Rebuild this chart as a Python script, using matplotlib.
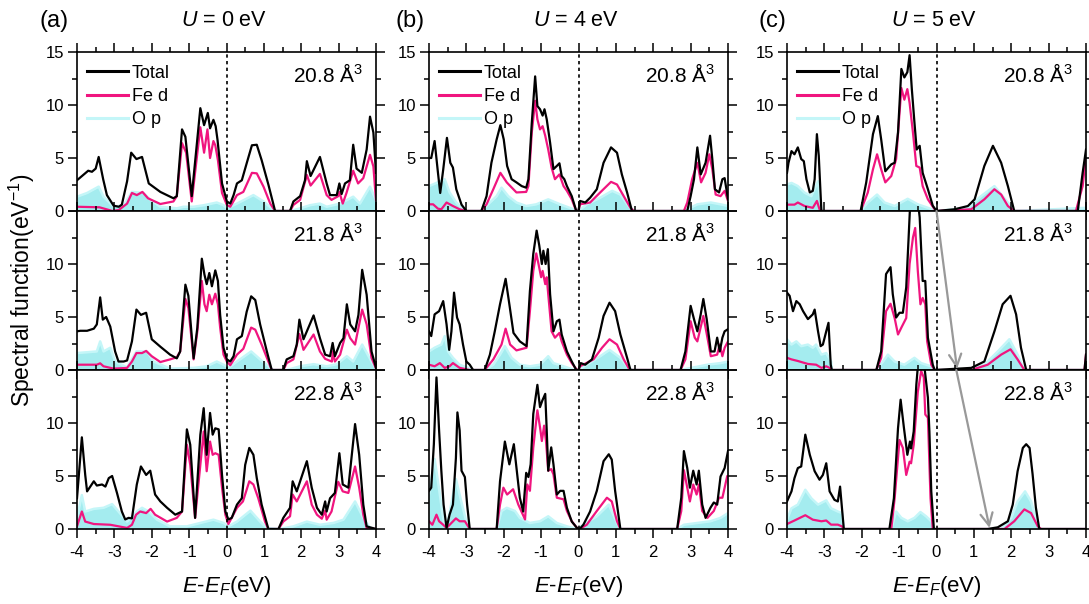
import matplotlib
matplotlib.use("Agg")
import matplotlib.pyplot as plt
from matplotlib.ticker import MultipleLocator

plt.rcParams['font.family'] = ['Liberation Sans', 'DejaVu Sans']
plt.rcParams['mathtext.fontset'] = 'custom'
plt.rcParams['mathtext.rm'] = 'Liberation Sans'
plt.rcParams['mathtext.it'] = 'Liberation Sans:italic'

## Data: (E - E_F [eV], spectral function [1/eV]) ##
volumes = ["20.8", "21.8", "22.8"]
u_values = ["0", "4", "5"]
panel_tags = ["(a)", "(b)", "(c)"]
energy_ticks = [-4, -3, -2, -1, 0, 1, 2, 3, 4]

# U = 0 eV
a1_total = [(-4.0, 2.9), (-3.8, 3.5), (-3.7, 3.8), (-3.6, 3.7), (-3.5, 4.0), (-3.42, 5.1), (-3.3, 3.0), (-3.2, 1.5),
            (-3.02, 0.5), (-2.88, 0.4), (-2.8, 0.6), (-2.66, 2.8), (-2.55, 5.5), (-2.41, 4.9), (-2.26, 5.1), (-2.08, 2.6),
            (-1.77, 1.8), (-1.42, 1.2), (-1.33, 1.4), (-1.19, 7.7), (-1.10, 7.0), (-0.93, 1.4), (-0.70, 9.7), (-0.60, 8.1),
            (-0.50, 9.25), (-0.44, 7.8), (-0.35, 8.6), (-0.29, 8.0), (-0.24, 6.7), (-0.12, 2.6), (0.01, 0.9), (0.10, 0.7),
            (0.19, 1.5), (0.28, 2.6), (0.41, 2.9), (0.54, 4.5), (0.68, 6.2), (0.81, 6.25), (0.94, 4.8), (1.12, 2.5),
            (1.30, 0.0), (1.70, 0.0), (1.79, 0.9), (1.97, 1.4), (2.10, 2.9), (2.15, 4.7), (2.25, 3.3), (2.50, 5.1),
            (2.68, 2.6), (2.77, 1.5), (2.95, 1.5), (3.02, 2.6), (3.08, 1.6), (3.17, 2.6), (3.30, 2.9), (3.39, 6.25),
            (3.48, 4.0), (3.62, 3.6), (3.75, 5.8), (3.84, 8.9), (3.93, 7.4), (4.0, 3.6)]
a1_fed = [(-4.0, 0.4), (-3.4, 0.35), (-3.05, 0.0), (-2.88, 0.1), (-2.66, 0.7), (-2.53, 1.7), (-2.4, 1.5), (-2.25, 1.8),
          (-2.1, 1.2), (-1.77, 0.66), (-1.42, 0.9), (-1.33, 1.4), (-1.19, 6.4), (-1.08, 5.5), (-0.93, 0.9), (-0.70, 7.9),
          (-0.6, 5.5), (-0.51, 7.7), (-0.44, 5.0), (-0.35, 6.6), (-0.30, 6.2), (-0.23, 4.8), (-0.12, 1.7), (0.01, 0.57),
          (0.10, 0.4), (0.28, 1.5), (0.45, 1.8), (0.68, 3.6), (0.81, 3.55), (0.99, 2.3), (1.17, 0.7), (1.30, 0.0),
          (1.70, 0.0), (1.79, 0.57), (1.97, 1.05), (2.15, 3.4), (2.25, 2.4), (2.50, 3.5), (2.68, 1.5), (2.81, 1.05),
          (2.99, 1.4), (3.02, 1.8), (3.11, 0.7), (3.21, 1.7), (3.39, 3.8), (3.52, 2.6), (3.66, 3.1), (3.84, 5.3),
          (3.93, 4.2), (4.0, 1.0)]
a1_op = [(-4.0, 1.35), (-3.73, 1.7), (-3.42, 2.3), (-3.29, 1.35), (-3.02, 0.4), (-2.75, 0.55), (-2.53, 1.8), (-2.22, 1.7),
         (-2.04, 1.05), (-1.77, 0.4), (-1.33, 0.25), (-1.15, 0.4), (-0.88, 0.4), (-0.6, 0.55), (-0.26, 0.8), (-0.08, 0.55),
         (0.01, 0.25), (0.28, 0.7), (0.72, 1.5), (0.99, 0.9), (1.26, 0.1), (1.35, 0.0), (1.70, 0.0), (1.97, 0.25),
         (2.24, 0.55), (2.5, 0.7), (2.68, 0.4), (3.04, 0.7), (3.39, 1.35), (3.57, 0.7), (3.84, 2.3), (4.0, 1.0)]

a2_total = [(-4.0, 3.65), (-3.91, 3.7), (-3.73, 3.7), (-3.55, 3.9), (-3.47, 4.3), (-3.38, 6.85), (-3.31, 4.75), (-3.22, 5.0),
            (-3.11, 4.1), (-2.98, 1.75), (-2.89, 0.8), (-2.75, 0.8), (-2.66, 0.9), (-2.53, 2.7), (-2.41, 5.7), (-2.29, 5.2),
            (-2.15, 5.4), (-2.0, 2.9), (-1.77, 2.2), (-1.51, 1.45), (-1.33, 1.1), (-1.24, 1.75), (-1.10, 8.05), (-1.02, 7.0),
            (-0.88, 1.1), (-0.78, 4.0), (-0.66, 10.5), (-0.59, 9.0), (-0.53, 8.1), (-0.46, 9.15), (-0.39, 7.9), (-0.30, 9.4),
            (-0.23, 8.4), (-0.17, 5.2), (-0.08, 2.1), (0.01, 1.0), (0.10, 0.8), (0.19, 1.3), (0.28, 2.9), (0.41, 3.2),
            (0.54, 5.5), (0.66, 6.95), (0.77, 6.6), (0.90, 4.3), (1.08, 1.75), (1.21, 0.0), (1.52, 0.0), (1.61, 1.0),
            (1.79, 1.3), (1.88, 2.4), (1.95, 4.75), (2.06, 2.9), (2.33, 5.15), (2.50, 3.0), (2.64, 1.45), (2.77, 1.3),
            (2.84, 2.55), (2.90, 1.3), (3.04, 2.55), (3.13, 3.0), (3.22, 6.2), (3.31, 4.3), (3.44, 3.65), (3.53, 5.2),
            (3.63, 9.45), (3.75, 7.1), (3.88, 1.75), (4.0, 0.2)]
a2_fed = [(-4.0, 0.5), (-3.47, 0.5), (-3.38, 0.63), (-3.29, 0.35), (-3.02, 0.13), (-2.66, 0.2), (-2.53, 0.8), (-2.41, 1.6),
          (-2.26, 1.6), (-2.15, 1.8), (-2.0, 1.3), (-1.77, 0.75), (-1.51, 1.0), (-1.33, 1.2), (-1.24, 1.75), (-1.10, 6.7),
          (-1.02, 5.85), (-0.88, 1.0), (-0.78, 3.65), (-0.66, 8.4), (-0.59, 6.2), (-0.53, 5.55), (-0.46, 7.1), (-0.39, 6.2),
          (-0.30, 7.2), (-0.23, 6.2), (-0.17, 4.0), (-0.08, 1.45), (0.01, 0.8), (0.10, 0.45), (0.28, 1.45), (0.45, 2.0),
          (0.66, 4.0), (0.77, 3.8), (0.94, 2.4), (1.12, 0.8), (1.21, 0.0), (1.52, 0.0), (1.61, 0.65), (1.79, 1.0),
          (1.95, 3.4), (2.06, 1.9), (2.33, 3.35), (2.50, 1.75), (2.64, 1.05), (2.82, 0.8), (2.84, 1.75), (2.90, 0.8),
          (3.04, 1.45), (3.22, 3.8), (3.31, 3.0), (3.44, 2.4), (3.63, 5.7), (3.75, 4.3), (3.88, 1.15), (4.0, 0.13)]
a2_op = [(-4.0, 1.6), (-3.47, 1.75), (-3.38, 2.7), (-3.29, 1.75), (-3.11, 2.1), (-2.98, 0.8), (-2.66, 0.25), (-2.41, 1.75),
         (-2.13, 1.75), (-1.95, 0.8), (-1.51, 0.13), (-0.88, 0.2), (-0.53, 0.35), (-0.26, 0.8), (-0.08, 0.5), (0.05, 0.2),
         (0.28, 0.8), (0.66, 1.75), (0.90, 1.0), (1.17, 0.2), (1.26, 0.0), (1.61, 0.0), (1.97, 0.35), (2.33, 0.55),
         (2.68, 0.35), (2.95, 0.55), (3.22, 1.3), (3.39, 0.8), (3.63, 2.4), (3.88, 0.8), (4.0, 0.13)]

a3_total = [(-4.0, 2.9), (-3.87, 8.65), (-3.78, 5.1), (-3.73, 3.55), (-3.55, 4.5), (-3.47, 4.1), (-3.33, 4.2), (-3.24, 4.0),
            (-3.15, 4.8), (-3.06, 5.0), (-2.93, 3.4), (-2.80, 1.65), (-2.71, 0.9), (-2.62, 1.05), (-2.53, 1.0), (-2.40, 4.2),
            (-2.29, 5.9), (-2.15, 5.1), (-2.04, 5.5), (-1.91, 3.25), (-1.77, 2.6), (-1.59, 2.0), (-1.37, 1.35), (-1.19, 1.65),
            (-1.06, 9.4), (-0.97, 7.95), (-0.84, 1.05), (-0.70, 8.9), (-0.61, 11.4), (-0.53, 7.0), (-0.44, 10.95), (-0.37, 8.9),
            (-0.30, 9.5), (-0.21, 9.4), (-0.12, 5.1), (-0.03, 1.65), (0.05, 0.9), (0.14, 1.05), (0.28, 2.3), (0.41, 2.9),
            (0.50, 6.05), (0.61, 7.65), (0.72, 7.0), (0.81, 4.8), (0.94, 2.3), (1.12, 0.0), (1.39, 0.0), (1.52, 1.05),
            (1.70, 2.0), (1.77, 4.5), (1.88, 3.55), (2.15, 6.4), (2.28, 3.9), (2.42, 2.0), (2.55, 1.35), (2.64, 2.6),
            (2.68, 1.65), (2.77, 2.9), (2.90, 3.4), (3.02, 7.15), (3.11, 4.2), (3.26, 3.9), (3.44, 9.9), (3.55, 7.0),
            (3.66, 2.3), (3.75, 0.25), (4.0, 0.0)]
a3_fed = [(-4.0, 0.25), (-3.87, 1.65), (-3.78, 0.7), (-3.55, 0.47), (-3.11, 0.4), (-2.66, 0.1), (-2.53, 0.4), (-2.42, 1.35),
          (-2.31, 1.65), (-2.15, 1.5), (-2.03, 1.9), (-1.91, 1.35), (-1.59, 0.7), (-1.33, 1.05), (-1.19, 1.65), (-1.06, 7.95),
          (-0.97, 6.05), (-0.84, 1.05), (-0.70, 6.05), (-0.61, 9.2), (-0.53, 5.45), (-0.44, 8.25), (-0.37, 7.0), (-0.30, 7.15),
          (-0.21, 7.0), (-0.12, 3.9), (-0.03, 1.35), (0.05, 0.47), (0.28, 2.0), (0.44, 2.6), (0.61, 4.5), (0.72, 4.2),
          (0.85, 2.9), (1.03, 0.7), (1.12, 0.0), (1.39, 0.0), (1.52, 0.7), (1.70, 1.2), (1.77, 3.25), (1.88, 2.6),
          (2.15, 4.5), (2.28, 2.3), (2.42, 1.35), (2.55, 0.97), (2.64, 1.73), (2.68, 0.88), (2.81, 1.65), (2.99, 4.45),
          (3.11, 3.55), (3.26, 3.4), (3.44, 5.9), (3.55, 3.9), (3.66, 1.35), (3.75, 0.1), (4.0, 0.0)]
a3_op = [(-4.0, 1.05), (-3.87, 3.2), (-3.78, 1.65), (-3.55, 1.9), (-3.29, 2.0), (-3.06, 2.35), (-2.89, 1.65), (-2.66, 0.7),
         (-2.40, 1.65), (-2.26, 2.0), (-2.08, 1.65), (-1.86, 0.88), (-1.51, 0.25), (-1.06, 0.25), (-0.70, 0.57), (-0.35, 0.88),
         (-0.08, 0.57), (0.05, 0.25), (0.28, 0.7), (0.64, 1.73), (0.90, 0.7), (1.08, 0.1), (1.43, 0.0), (1.79, 0.25),
         (2.15, 0.7), (2.50, 0.4), (2.86, 0.57), (3.13, 0.88), (3.44, 2.6), (3.66, 1.05), (3.84, 0.1), (4.0, 0.0)]

# U = 4 eV
b1_total = [(-4.0, 5.0), (-3.94, 5.0), (-3.85, 6.6), (-3.76, 3.6), (-3.70, 1.7), (-3.62, 3.9), (-3.52, 6.9), (-3.43, 4.55),
            (-3.36, 4.1), (-3.27, 2.05), (-3.13, 0.6), (-3.0, 0.0), (-2.60, 0.0), (-2.46, 1.4), (-2.33, 4.55), (-2.19, 6.75),
            (-2.09, 8.1), (-2.0, 6.75), (-1.91, 4.25), (-1.79, 3.0), (-1.66, 2.7), (-1.52, 2.35), (-1.40, 2.2), (-1.34, 3.0),
            (-1.25, 8.3), (-1.16, 12.7), (-1.10, 9.9), (-1.03, 9.6), (-0.96, 9.0), (-0.91, 9.6), (-0.85, 8.65), (-0.76, 6.45),
            (-0.67, 3.95), (-0.58, 4.25), (-0.51, 4.5), (-0.45, 3.3), (-0.38, 3.0), (-0.31, 2.35), (-0.18, 1.4), (-0.06, 0.0),
            (0.0, 0.0), (0.04, 0.95), (0.18, 0.8), (0.31, 1.25), (0.49, 2.05), (0.67, 4.55), (0.87, 6.0), (1.03, 5.5),
            (1.16, 3.45), (1.30, 1.75), (1.43, 0.0), (2.91, 0.0), (3.0, 1.4), (3.09, 3.0), (3.18, 6.0), (3.27, 3.45),
            (3.40, 4.55), (3.52, 7.1), (3.58, 4.9), (3.65, 2.05), (3.76, 1.75), (3.85, 3.0), (3.91, 3.1), (4.0, 1.1)]
b1_fed = [(-4.0, 0.63), (-3.89, 0.63), (-3.76, 0.22), (-3.67, 0.16), (-3.53, 0.8), (-3.36, 0.47), (-3.18, 0.16), (-3.0, 0.0),
          (-2.60, 0.0), (-2.46, 0.63), (-2.28, 2.05), (-2.09, 3.6), (-1.92, 2.7), (-1.66, 1.75), (-1.40, 1.8), (-1.34, 2.35),
          (-1.25, 7.4), (-1.16, 10.4), (-1.10, 8.65), (-1.03, 7.7), (-0.96, 8.0), (-0.89, 7.1), (-0.81, 5.8), (-0.72, 4.1),
          (-0.63, 3.0), (-0.51, 3.45), (-0.40, 2.35), (-0.31, 1.9), (-0.18, 1.1), (-0.06, 0.0), (0.0, 0.0), (0.04, 0.63),
          (0.31, 0.8), (0.58, 1.75), (0.87, 2.75), (1.03, 2.5), (1.21, 1.4), (1.39, 0.3), (1.48, 0.0), (2.82, 0.0),
          (2.91, 0.8), (3.04, 3.0), (3.18, 4.55), (3.28, 2.7), (3.40, 3.6), (3.50, 5.35), (3.58, 3.95), (3.67, 1.55),
          (3.80, 1.4), (3.91, 1.9), (4.0, 0.95)]
b1_op = [(-4.0, 2.35), (-3.80, 2.65), (-3.58, 3.0), (-3.45, 1.75), (-3.27, 0.8), (-3.09, 0.16), (-3.0, 0.0), (-2.60, 0.0),
         (-2.37, 0.8), (-2.19, 1.4), (-2.06, 2.2), (-1.88, 1.4), (-1.66, 0.8), (-1.40, 0.47), (-1.13, 0.63), (-0.81, 1.1),
         (-0.49, 0.63), (-0.13, 0.16), (0.0, 0.0), (0.22, 0.63), (0.58, 1.25), (0.90, 1.9), (1.12, 1.55), (1.34, 0.47),
         (1.48, 0.0), (2.82, 0.0), (3.18, 0.63), (3.54, 0.8), (3.80, 0.63), (4.0, 0.47)]

b2_total = [(-4.0, 3.65), (-3.94, 3.2), (-3.85, 5.25), (-3.73, 5.55), (-3.62, 6.5), (-3.53, 4.3), (-3.46, 1.9), (-3.40, 3.65),
            (-3.33, 7.3), (-3.25, 4.95), (-3.18, 4.3), (-3.09, 2.4), (-3.0, 0.8), (-2.91, 0.5), (-2.82, 0.0), (-2.51, 0.0),
            (-2.37, 1.45), (-2.24, 3.65), (-2.10, 6.2), (-1.95, 8.6), (-1.85, 6.2), (-1.74, 3.5), (-1.57, 2.7), (-1.39, 2.25),
            (-1.30, 7.45), (-1.21, 10.95), (-1.12, 13.15), (-1.05, 11.75), (-0.98, 10.0), (-0.94, 11.25), (-0.88, 10.0),
            (-0.82, 11.4), (-0.76, 7.15), (-0.67, 3.65), (-0.58, 4.6), (-0.51, 4.75), (-0.45, 3.35), (-0.31, 1.75),
            (-0.18, 0.8), (-0.06, 0.0), (0.0, 0.0), (0.06, 0.65), (0.18, 0.5), (0.36, 1.0), (0.54, 3.05), (0.67, 5.1),
            (0.83, 6.35), (0.98, 5.55), (1.12, 3.35), (1.30, 1.15), (1.39, 0.0), (2.73, 0.0), (2.86, 1.75), (3.0, 6.05),
            (3.09, 4.8), (3.18, 3.65), (3.27, 5.25), (3.34, 6.7), (3.43, 4.8), (3.54, 1.75), (3.64, 1.75), (3.71, 3.05),
            (3.78, 1.75), (3.85, 3.05), (3.91, 3.65), (4.0, 3.85)]
b2_fed = [(-4.0, 0.5), (-3.85, 0.35), (-3.71, 0.65), (-3.58, 0.2), (-3.45, 0.35), (-3.36, 0.65), (-3.18, 0.2), (-2.91, 0.0),
          (-2.51, 0.0), (-2.28, 1.0), (-2.06, 2.4), (-1.95, 3.9), (-1.83, 2.4), (-1.66, 1.85), (-1.39, 2.1), (-1.30, 5.55),
          (-1.21, 9.35), (-1.13, 11.0), (-1.07, 10.0), (-1.0, 8.75), (-0.96, 9.35), (-0.89, 8.1), (-0.85, 8.75),
          (-0.81, 7.15), (-0.72, 3.65), (-0.63, 3.05), (-0.51, 3.5), (-0.45, 2.7), (-0.31, 1.45), (-0.18, 0.65),
          (-0.04, 0.0), (0.0, 0.0), (0.04, 0.35), (0.40, 1.0), (0.63, 2.1), (0.83, 2.9), (1.03, 2.4), (1.21, 1.0),
          (1.37, 0.0), (2.73, 0.0), (2.86, 1.0), (3.0, 4.6), (3.11, 3.05), (3.18, 2.7), (3.34, 5.1), (3.45, 3.05),
          (3.54, 1.3), (3.71, 1.45), (3.78, 2.4), (3.85, 1.3), (3.91, 2.1), (4.0, 2.7)]
b2_op = [(-4.0, 1.75), (-3.85, 2.1), (-3.67, 2.4), (-3.58, 3.2), (-3.49, 1.75), (-3.36, 1.15), (-3.18, 0.5), (-2.96, 0.2),
         (-2.82, 0.0), (-2.51, 0.0), (-2.28, 0.5), (-2.10, 1.45), (-1.97, 2.25), (-1.79, 1.15), (-1.57, 0.5), (-1.30, 0.35),
         (-1.03, 0.5), (-0.81, 1.3), (-0.67, 0.65), (-0.40, 0.35), (-0.13, 0.03), (0.0, 0.0), (0.22, 0.5), (0.58, 1.3),
         (0.83, 1.9), (1.12, 1.15), (1.34, 0.2), (1.43, 0.0), (2.73, 0.0), (3.09, 0.25), (3.45, 0.5), (3.80, 0.65),
         (4.0, 0.8)]

b3_total = [(-4.0, 3.6), (-3.94, 3.9), (-3.87, 8.0), (-3.80, 14.3), (-3.73, 9.3), (-3.67, 5.5), (-3.61, 2.3), (-3.53, 0.1),
            (-3.45, 1.35), (-3.36, 2.3), (-3.28, 6.7), (-3.24, 11.0), (-3.18, 9.3), (-3.13, 5.5), (-3.04, 4.9), (-2.98, 2.3),
            (-2.91, 0.0), (-2.19, 0.0), (-2.10, 4.5), (-1.97, 8.25), (-1.85, 6.1), (-1.73, 8.0), (-1.64, 5.15), (-1.57, 2.95),
            (-1.48, 1.65), (-1.40, 5.3), (-1.34, 4.9), (-1.28, 6.1), (-1.21, 10.85), (-1.10, 13.6), (-1.03, 11.5),
            (-0.97, 12.1), (-0.89, 12.75), (-0.85, 9.3), (-0.81, 5.5), (-0.73, 7.7), (-0.67, 6.1), (-0.58, 3.25),
            (-0.49, 3.6), (-0.40, 3.6), (-0.31, 2.0), (-0.18, 0.7), (-0.04, 0.1), (0.03, 0.0), (0.13, 0.4), (0.31, 1.65),
            (0.49, 3.6), (0.67, 6.4), (0.81, 7.05), (0.89, 6.55), (0.98, 3.6), (1.12, 0.0), (2.64, 0.0), (2.75, 2.95),
            (2.82, 7.35), (2.91, 5.75), (2.98, 3.9), (3.07, 5.5), (3.16, 4.2), (3.22, 5.5), (3.31, 2.3), (3.40, 1.05),
            (3.53, 2.0), (3.62, 2.5), (3.71, 2.3), (3.80, 4.95), (3.91, 5.75), (4.0, 7.35)]
b3_fed = [(-4.0, 0.73), (-3.91, 0.4), (-3.80, 1.35), (-3.73, 0.73), (-3.62, 0.4), (-3.53, 0.1), (-3.40, 0.57), (-3.28, 1.0),
          (-3.18, 0.73), (-3.04, 0.73), (-2.91, 0.0), (-2.19, 0.0), (-2.10, 2.3), (-2.01, 3.9), (-1.91, 3.25), (-1.75, 3.75),
          (-1.61, 2.3), (-1.43, 0.9), (-1.37, 4.2), (-1.30, 3.6), (-1.21, 7.7), (-1.10, 11.2), (-1.03, 9.6), (-0.98, 8.3),
          (-0.92, 9.75), (-0.87, 8.3), (-0.81, 5.5), (-0.73, 5.65), (-0.67, 5.15), (-0.58, 2.95), (-0.40, 2.8),
          (-0.31, 1.7), (-0.18, 0.73), (-0.04, 0.1), (0.03, 0.0), (0.22, 0.4), (0.49, 1.7), (0.76, 2.95), (0.89, 2.6),
          (1.03, 0.73), (1.12, 0.0), (2.64, 0.0), (2.75, 1.7), (2.82, 5.55), (2.91, 3.9), (2.98, 2.6), (3.07, 4.2),
          (3.16, 3.25), (3.22, 4.2), (3.31, 1.7), (3.45, 1.05), (3.62, 1.7), (3.76, 2.95), (3.85, 2.95), (3.98, 5.0),
          (4.0, 5.0)]
b3_op = [(-4.0, 3.25), (-3.85, 6.6), (-3.76, 4.5), (-3.61, 0.73), (-3.53, 0.1), (-3.45, 1.5), (-3.28, 4.7), (-3.13, 2.5),
         (-2.98, 0.4), (-2.91, 0.0), (-2.19, 0.0), (-2.06, 1.7), (-1.92, 2.0), (-1.70, 1.7), (-1.57, 1.05), (-1.30, 0.57),
         (-1.03, 0.73), (-0.81, 1.2), (-0.58, 0.57), (-0.31, 0.25), (-0.04, 0.0), (0.13, 0.4), (0.49, 1.2), (0.81, 2.3),
         (1.03, 0.57), (1.12, 0.0), (2.64, 0.0), (2.82, 0.4), (3.18, 0.57), (3.53, 0.73), (3.80, 1.05), (4.0, 1.5)]

# U = 5 eV
c1_total = [(-4.0, 3.6), (-3.96, 4.55), (-3.88, 5.65), (-3.80, 5.35), (-3.71, 6.0), (-3.62, 4.9), (-3.55, 4.7), (-3.48, 3.0),
            (-3.39, 1.75), (-3.31, 1.9), (-3.26, 3.0), (-3.20, 7.25), (-3.15, 5.2), (-3.08, 0.0), (-2.03, 0.0), (-1.88, 2.7),
            (-1.70, 7.25), (-1.57, 8.95), (-1.48, 6.75), (-1.37, 3.75), (-1.21, 4.4), (-1.12, 4.55), (-1.03, 7.4),
            (-0.94, 13.4), (-0.86, 12.6), (-0.78, 13.1), (-0.72, 14.7), (-0.66, 11.5), (-0.59, 8.35), (-0.53, 5.8),
            (-0.45, 6.15), (-0.37, 3.6), (-0.23, 2.05), (-0.10, 0.5), (0.0, 0.0), (0.48, 0.16), (0.84, 0.47), (1.02, 1.1),
            (1.28, 4.25), (1.51, 6.15), (1.73, 4.55), (1.91, 2.35), (2.08, 0.0), (3.78, 0.0), (3.91, 3.6), (4.0, 5.8)]
c1_fed = [(-4.0, 0.6), (-3.80, 0.6), (-3.71, 0.8), (-3.53, 0.47), (-3.31, 0.3), (-3.20, 0.95), (-3.13, 0.16), (-3.08, 0.0),
          (-2.03, 0.0), (-1.84, 1.73), (-1.70, 3.93), (-1.59, 5.35), (-1.48, 3.93), (-1.37, 2.7), (-1.21, 3.3), (-1.08, 4.9),
          (-0.94, 11.6), (-0.86, 10.5), (-0.78, 11.5), (-0.72, 10.2), (-0.63, 7.4), (-0.54, 4.25), (-0.45, 4.1),
          (-0.37, 2.35), (-0.23, 1.1), (-0.05, 0.16), (0.0, 0.0), (0.93, 0.16), (1.28, 1.1), (1.55, 2.05), (1.73, 1.55),
          (1.91, 0.47), (2.08, 0.0), (3.73, 0.0), (3.91, 2.35), (4.0, 5.2)]
c1_op = [(-4.0, 2.5), (-3.88, 2.65), (-3.71, 2.35), (-3.53, 1.73), (-3.35, 1.4), (-3.17, 2.8), (-3.08, 0.0), (-2.03, 0.0),
         (-1.84, 0.8), (-1.59, 1.55), (-1.39, 0.8), (-1.12, 0.47), (-0.77, 1.15), (-0.50, 0.63), (-0.23, 0.3), (0.0, 0.0),
         (0.84, 0.3), (1.19, 1.4), (1.55, 2.35), (1.91, 0.8), (2.08, 0.0), (4.0, 0.3)]

c2_total = [(-4.0, 7.3), (-3.93, 7.0), (-3.84, 5.55), (-3.75, 6.5), (-3.66, 6.2), (-3.57, 5.55), (-3.44, 4.8), (-3.31, 5.25),
            (-3.26, 5.7), (-3.17, 3.65), (-3.10, 2.25), (-3.04, 2.4), (-2.95, 3.65), (-2.89, 4.45), (-2.83, 0.5), (-2.80, 0.0),
            (-1.61, 0.0), (-1.48, 1.75), (-1.35, 9.05), (-1.23, 9.7), (-1.17, 7.15), (-1.08, 4.95), (-0.99, 5.4), (-0.90, 5.4),
            (-0.81, 7.8), (-0.75, 12.2), (-0.70, 16.0), (-0.60, 16.5), (-0.50, 16.0), (-0.45, 14.4), (-0.37, 8.4),
            (-0.30, 8.4), (-0.23, 3.05), (-0.10, 0.5), (-0.05, 0.0), (0.93, 0.2), (1.28, 0.8), (1.55, 3.65), (1.77, 6.2),
            (1.98, 7.0), (2.13, 5.25), (2.26, 2.1), (2.40, 0.0), (3.96, 0.0), (4.0, 1.45)]
c2_fed = [(-4.0, 1.15), (-3.88, 1.0), (-3.71, 0.85), (-3.44, 0.57), (-3.22, 0.5), (-3.08, 0.2), (-2.95, 0.35), (-2.86, 0.2),
          (-2.80, 0.0), (-1.61, 0.0), (-1.48, 1.15), (-1.35, 5.55), (-1.23, 6.25), (-1.12, 4.9), (-1.03, 3.35), (-0.94, 4.0),
          (-0.81, 4.9), (-0.72, 10.0), (-0.63, 12.5), (-0.57, 13.4), (-0.50, 9.35), (-0.43, 6.2), (-0.37, 6.8),
          (-0.30, 6.2), (-0.25, 2.7), (-0.14, 0.5), (-0.05, 0.0), (0.93, 0.0), (1.37, 0.5), (1.73, 1.45), (1.98, 1.95),
          (2.17, 1.0), (2.35, 0.0), (3.96, 0.0), (4.0, 1.45)]
c2_op = [(-4.0, 2.9), (-3.88, 2.4), (-3.75, 2.7), (-3.62, 2.25), (-3.44, 2.4), (-3.31, 2.1), (-3.22, 2.4), (-3.08, 1.45),
         (-2.95, 1.6), (-2.82, 0.8), (-2.80, 0.0), (-1.61, 0.0), (-1.43, 0.8), (-1.30, 1.45), (-1.12, 0.8), (-0.86, 0.5),
         (-0.59, 1.15), (-0.41, 0.65), (-0.14, 0.35), (-0.05, 0.0), (0.84, 0.0), (1.28, 0.5), (1.64, 1.75), (1.95, 2.9),
         (2.17, 1.45), (2.35, 0.0), (4.0, 0.0)]

c3_total = [(-4.0, 2.6), (-3.88, 3.55), (-3.80, 4.8), (-3.71, 5.75), (-3.62, 5.9), (-3.51, 8.9), (-3.39, 7.0), (-3.26, 5.45),
            (-3.13, 4.65), (-3.04, 5.1), (-2.95, 6.2), (-2.86, 3.55), (-2.73, 2.75), (-2.64, 2.6), (-2.58, 4.0), (-2.53, 2.0),
            (-2.48, 0.0), (-1.26, 0.0), (-1.14, 2.9), (-1.03, 9.5), (-0.96, 12.2), (-0.87, 9.5), (-0.78, 7.0), (-0.71, 8.25),
            (-0.68, 7.6), (-0.61, 9.2), (-0.54, 13.6), (-0.50, 15.3), (-0.41, 16.0), (-0.32, 15.2), (-0.23, 12.4),
            (-0.19, 9.2), (-0.14, 3.55), (-0.07, 0.0), (1.37, 0.0), (1.64, 0.16), (1.91, 0.73), (2.04, 2.3), (2.17, 5.45),
            (2.31, 7.65), (2.40, 8.0), (2.49, 7.65), (2.57, 5.2), (2.66, 2.0), (2.75, 0.0), (4.0, 0.0)]
c3_fed = [(-4.0, 0.47), (-3.80, 0.8), (-3.51, 1.3), (-3.31, 0.88), (-3.08, 0.73), (-2.95, 0.8), (-2.82, 0.41), (-2.64, 0.41),
          (-2.53, 0.25), (-2.48, 0.0), (-1.21, 0.0), (-1.12, 2.9), (-0.99, 8.4), (-0.90, 7.65), (-0.81, 5.1), (-0.72, 6.35),
          (-0.68, 6.2), (-0.61, 7.95), (-0.50, 12.95), (-0.41, 14.9), (-0.34, 14.3), (-0.30, 10.8), (-0.23, 10.5),
          (-0.16, 2.9), (-0.10, 0.0), (1.82, 0.0), (2.08, 0.73), (2.35, 1.85), (2.53, 1.5), (2.71, 0.25), (2.80, 0.0),
          (4.0, 0.0)]
c3_op = [(-4.0, 0.88), (-3.88, 1.95), (-3.71, 2.3), (-3.51, 3.7), (-3.35, 2.9), (-3.17, 2.3), (-2.95, 2.7), (-2.82, 1.95),
         (-2.64, 1.65), (-2.53, 1.5), (-2.48, 0.0), (-1.21, 0.0), (-1.08, 1.65), (-0.94, 1.05), (-0.77, 0.73), (-0.59, 1.05),
         (-0.43, 1.6), (-0.28, 1.2), (-0.14, 0.73), (-0.07, 0.0), (1.73, 0.0), (2.0, 1.05), (2.17, 2.6), (2.37, 3.55),
         (2.53, 2.6), (2.71, 0.41), (2.75, 0.0), (4.0, 0.0)]

panels = [
    [(a1_total, a1_fed, a1_op), (a2_total, a2_fed, a2_op), (a3_total, a3_fed, a3_op)],
    [(b1_total, b1_fed, b1_op), (b2_total, b2_fed, b2_op), (b3_total, b3_fed, b3_op)],
    [(c1_total, c1_fed, c1_op), (c2_total, c2_fed, c2_op), (c3_total, c3_fed, c3_op)],
]

PINK = "#f0157f"
CYAN_FILL = "#a4ecef"
CYAN_LINE = "#c4f6f8"


def unzip(pairs):
    return [p[0] for p in pairs], [p[1] for p in pairs]


fig = plt.figure(figsize=(10.89, 6.04), dpi=100)
W, H = 1089.0, 604.0
col_left = [77, 429, 787]
col_width = 299
row_top = [52, 211, 370]
row_height = 159

axes = [[None] * 3 for _ in range(3)]
for c in range(3):
    for r in range(3):
        ax = fig.add_axes([col_left[c] / W, 1 - (row_top[r] + row_height) / H,
                           col_width / W, row_height / H])
        axes[c][r] = ax
        tot, fed, op = panels[c][r]

        e, v = unzip(op)
        ax.fill_between(e, 0, v, color=CYAN_FILL, lw=0)
        ax.plot(e, v, color=CYAN_LINE, lw=1.8, label="O p")
        e, v = unzip(fed)
        ax.plot(e, v, color=PINK, lw=1.6, label="Fe d")
        e, v = unzip(tot)
        ax.plot(e, v, color="black", lw=1.6, label="Total")

        ax.axvline(0, color="black", lw=1.2, ls=(0, (2, 2)))
        ax.set_xlim(-4, 4)
        ax.set_ylim(0, 15)
        ax.set_xticks(energy_ticks)
        ax.xaxis.set_minor_locator(MultipleLocator(0.5))
        ax.set_yticks([0, 5, 10, 15])
        ax.yaxis.set_minor_locator(MultipleLocator(2.5))
        if r == 0:
            ax.set_yticklabels(["0", "5", "10", "15"])
        else:
            ax.set_yticklabels(["0", "5", "10", ""])
        if r < 2:
            ax.set_xticklabels([])
        else:
            ax.set_xticklabels([str(t) for t in energy_ticks])
            ax.set_xlabel(r"$E$-$E_F$(eV)", fontsize=16, labelpad=10)
        ax.tick_params(which="both", direction="out", top=True, right=True,
                       labelsize=12, width=1.1)
        ax.tick_params(which="major", length=6.5, pad=3)
        ax.tick_params(axis="x", which="major", pad=5)
        ax.tick_params(which="minor", length=3.5)
        for s in ax.spines.values():
            s.set_linewidth(1.2)

        ax.text(0.955, 0.86, volumes[r] + r" Å$^3$", transform=ax.transAxes,
                ha="right", va="center", fontsize=15)

        if r == 0:
            h, l = ax.get_legend_handles_labels()
            order = [2, 1, 0]
            leg = ax.legend([h[i] for i in order], [l[i] for i in order],
                            loc="upper left", bbox_to_anchor=(-0.01, 1.0), frameon=False,
                            fontsize=13, handlelength=2.3, handletextpad=0.2,
                            labelspacing=0.35, borderaxespad=0.3)
            for line in leg.get_lines():
                line.set_linewidth(2.2)

    zero_px = col_left[c] + col_width / 2
    fig.text([54, 410, 772][c] / W, 1 - 21 / H, panel_tags[c], fontsize=17,
             ha="center", va="center")
    fig.text((zero_px - 2) / W, 1 - 20 / H, r"$U$ = " + u_values[c] + " eV", fontsize=15.5,
             ha="center", va="center")

fig.text(22 / W, 0.52, r"Spectral function(eV$^{-1}$)", rotation=90, fontsize=16.5,
         ha="center", va="center")

# gray arrows marking the gap opening in the U = 5 eV column
arrow_kw = dict(arrowstyle="->", color="#999999", lw=1.6, mutation_scale=22,
                shrinkA=0, shrinkB=0)
axes[2][1].annotate("", xy=(0.55, 0.1), xytext=(0.0, 15.0), arrowprops=arrow_kw,
                    annotation_clip=False)
axes[2][2].annotate("", xy=(1.42, 0.1), xytext=(0.53, 15.0), arrowprops=arrow_kw,
                    annotation_clip=False)

fig.savefig("out.png", dpi=100)
